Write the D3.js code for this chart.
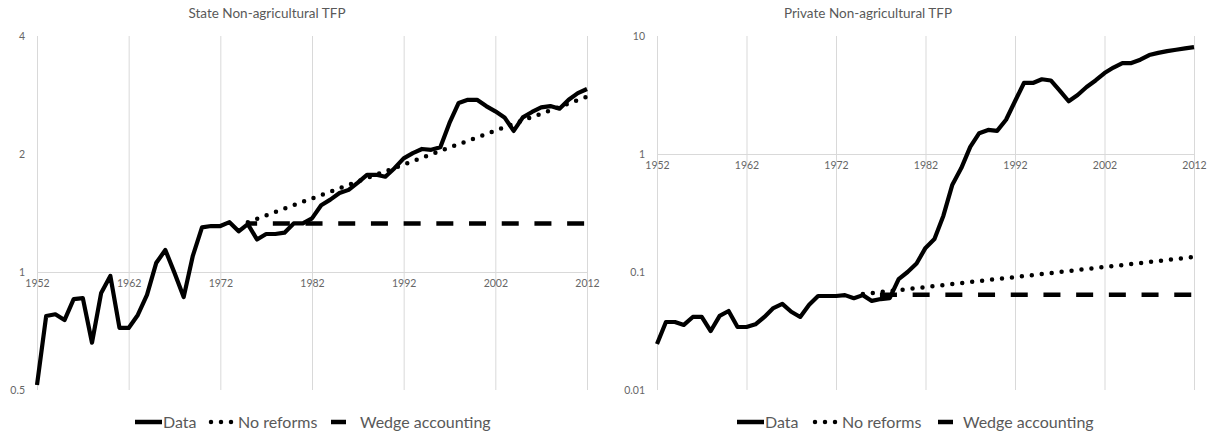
<!DOCTYPE html>
<html>
<head>
<meta charset="utf-8">
<script src="https://cdn.jsdelivr.net/npm/d3@7"></script>
<style>
    html, body { margin: 0; padding: 0; background: #fff; }
    svg { display: block; font-family: Lato, "Open Sans", sans-serif; }
    .tick text { fill: #666; }
</style>
</head>
<body>
<svg id="chart" width="1213" height="434"></svg>
<script>
// Years on the category axis (one point per year)
var years = [1952, 1953, 1954, 1955, 1956, 1957, 1958, 1959, 1960, 1961,
    1962, 1963, 1964, 1965, 1966, 1967, 1968, 1969, 1970, 1971,
    1972, 1973, 1974, 1975, 1976, 1977, 1978, 1979, 1980, 1981,
    1982, 1983, 1984, 1985, 1986, 1987, 1988, 1989, 1990, 1991,
    1992, 1993, 1994, 1995, 1996, 1997, 1998, 1999, 2000, 2001,
    2002, 2003, 2004, 2005, 2006, 2007, 2008, 2009, 2010, 2011, 2012];
var yearTicks = [1952, 1962, 1972, 1982, 1992, 2002, 2012];

// State non-agricultural TFP
var stateData = [0.515, 0.772, 0.78, 0.754, 0.853, 0.858, 0.66, 0.884, 0.977, 0.72,
    0.72, 0.777, 0.874, 1.054, 1.138, 0.995, 0.863, 1.1, 1.3, 1.31,
    1.31, 1.34, 1.27, 1.325, 1.21, 1.25, 1.25, 1.26, 1.33, 1.33,
    1.37, 1.48, 1.53, 1.59, 1.62, 1.69, 1.77, 1.77, 1.75, 1.84,
    1.95, 2.01, 2.06, 2.05, 2.08, 2.4, 2.7, 2.75, 2.75, 2.65,
    2.57, 2.48, 2.29, 2.48, 2.56, 2.63, 2.65, 2.61, 2.75, 2.86, 2.93];
var stateNoReformYears = [1975, 2012];
var stateNoReform = [1.34, 2.8];
var stateWedgeYears = [1975, 2012];
var stateWedge = [1.33, 1.33];
var stateTicks = [0.5, 1, 2, 4];

// Private non-agricultural TFP
var privateData = [0.0245, 0.0377, 0.0377, 0.0356, 0.0416, 0.0416, 0.0316, 0.0425, 0.0467, 0.0342,
    0.0342, 0.036, 0.0416, 0.0495, 0.0537, 0.046, 0.0416, 0.0527, 0.0626, 0.0626,
    0.0626, 0.0637, 0.06, 0.0637, 0.0569, 0.059, 0.06, 0.087, 0.1, 0.118,
    0.16, 0.19, 0.3, 0.55, 0.76, 1.15, 1.5, 1.6, 1.57, 1.95,
    2.8, 4.0, 4.0, 4.3, 4.2, 3.45, 2.8, 3.16, 3.7, 4.2,
    4.85, 5.4, 5.9, 5.9, 6.3, 6.9, 7.2, 7.45, 7.65, 7.85, 8.05];
var privateNoReformYears = [1975, 2012];
var privateNoReform = [0.065, 0.134];
var privateWedgeYears = [1975, 2012];
var privateWedge = [0.064, 0.064];
var privateTicks = [0.01, 0.1, 1, 10];

var legendNames = ["Data", "No reforms", "Wedge accounting"];

var svg = d3.select("#chart");

/**
 * Draws one log-scale panel with gridlines, axis crossing at 1, three series and a legend.
 * Params: title, left/right pixel bounds, y domain, series arrays, dash offset for the wedge line.
 */
function drawPanel(p) {
    var top = 36, bottom = 390;
    var g = svg.append("g");

    var x = d3.scaleLinear().domain([1952, 2012]).range([p.x0, p.x1]);
    var y = d3.scaleLog().domain(p.yDomain).range([bottom, top]);

    g.append("text")
        .attr("x", p.titleX).attr("y", 18)
        .attr("text-anchor", "middle")
        .attr("font-size", 13.5)
        .attr("fill", "#595959")
        .text(p.title);

    // vertical gridlines, one per tick year
    var grid = d3.axisBottom(x).tickValues(yearTicks).tickSize(-(bottom - top)).tickFormat("");
    g.append("g")
        .attr("transform", "translate(0," + bottom + ")")
        .call(grid)
        .call(function (s) {
            s.select(".domain").remove();
            s.selectAll("line").attr("stroke", "#d9d9d9");
        });

    // horizontal axis crosses at 1
    var xAxis = d3.axisBottom(x).tickValues(yearTicks).tickSize(0).tickPadding(8).tickFormat(d3.format("d"));
    g.append("g")
        .attr("transform", "translate(0," + y(1) + ")")
        .call(xAxis)
        .call(function (s) {
            s.select(".domain").attr("stroke", "#d9d9d9");
            s.selectAll("text").attr("font-size", 10.5).attr("font-family", "Lato");
        });

    var yAxis = d3.axisLeft(y).tickValues(p.yTicks).tickSize(0).tickPadding(12).tickFormat(function (d) { return String(d); });
    g.append("g")
        .attr("transform", "translate(" + p.x0 + ",0)")
        .call(yAxis)
        .call(function (s) {
            s.select(".domain").remove();
            s.selectAll("text").attr("font-size", 10.5).attr("font-family", "Lato");
        });

    var line = d3.line()
        .x(function (d) { return x(d[0]); })
        .y(function (d) { return y(d[1]); });

    g.append("path")
        .datum(d3.zip(p.wedgeYears, p.wedge))
        .attr("d", line)
        .attr("fill", "none").attr("stroke", "#000")
        .attr("stroke-width", 4.5)
        .attr("stroke-dasharray", "17,15.7")
        .attr("stroke-dashoffset", p.dashOffset);

    g.append("path")
        .datum(d3.zip(p.noReformYears, p.noReform))
        .attr("d", line)
        .attr("fill", "none").attr("stroke", "#000")
        .attr("stroke-width", 4.5)
        .attr("stroke-linecap", "round")
        .attr("stroke-dasharray", "0,10");

    g.append("path")
        .datum(d3.zip(years, p.data))
        .attr("d", line)
        .attr("fill", "none").attr("stroke", "#000")
        .attr("stroke-width", 4.2)
        .attr("stroke-linejoin", "round");

    // legend: symbol + label for each series
    var ly = 422;
    var leg = g.append("g").attr("font-size", 16).attr("fill", "#595959");
    var items = [
        { sx: p.legend[0], w: 27, style: "solid" },
        { sx: p.legend[1], w: 27, style: "dot" },
        { sx: p.legend[2], w: 15, style: "dash" }
    ];
    items.forEach(function (it, i) {
        var sym = leg.append("line")
            .attr("x1", it.sx).attr("x2", it.sx + it.w)
            .attr("y1", ly).attr("y2", ly)
            .attr("stroke", "#000").attr("stroke-width", 4.5);
        if (it.style === "dot") {
            sym.attr("x1", it.sx + 3).attr("stroke-linecap", "round").attr("stroke-dasharray", "0,10");
        }
        leg.append("text")
            .attr("x", it.sx + it.w + p.legendGap[i])
            .attr("y", ly)
            .attr("dy", "0.35em")
            .text(legendNames[i]);
    });
}

drawPanel({
    title: "State Non-agricultural TFP", titleX: 267,
    x0: 37, x1: 587,
    yDomain: [0.5, 4], yTicks: stateTicks,
    data: stateData,
    noReformYears: stateNoReformYears, noReform: stateNoReform,
    wedgeYears: stateWedgeYears, wedge: stateWedge,
    dashOffset: 7.7,
    legend: [135, 208, 331], legendGap: [1, 3, 14]
});

drawPanel({
    title: "Private Non-agricultural TFP", titleX: 868,
    x0: 657, x1: 1194,
    yDomain: [0.01, 10], yTicks: privateTicks,
    data: privateData,
    noReformYears: privateNoReformYears, noReform: privateNoReform,
    wedgeYears: privateWedgeYears, wedge: privateWedge,
    dashOffset: 15.6,
    legend: [737, 812, 938], legendGap: [1, 3, 10]
});
</script>
</body>
</html>
